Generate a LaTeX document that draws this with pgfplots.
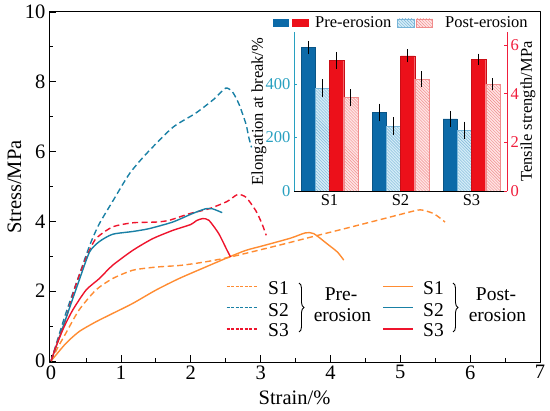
\documentclass[border=0pt]{standalone}
\usepackage{fontspec}
\setmainfont{Liberation Serif}
\usepackage{pgfplots}
\pgfplotsset{compat=1.18}
\usetikzlibrary{patterns,decorations.pathreplacing}
\definecolor{corange}{RGB}{255,140,50}
\definecolor{cteal}{RGB}{25,128,165}
\definecolor{cred}{RGB}{238,20,45}
\definecolor{barblue}{RGB}{12,106,168}
\definecolor{barred}{RGB}{236,16,26}
\definecolor{lblue}{RGB}{212,236,247}
\definecolor{hblue}{RGB}{120,180,215}
\definecolor{lpink}{RGB}{255,228,228}
\definecolor{hpink}{RGB}{240,140,140}
\definecolor{tealax}{RGB}{40,160,192}
\definecolor{redax}{RGB}{240,30,60}
\begin{document}
\begin{tikzpicture}
\useasboundingbox (0,0) rectangle (550bp,411bp);
% ---------------- main axis ----------------
\begin{axis}[
  at={(49bp,49bp)}, anchor=south west, scale only axis,
  width=491bp, height=350bp,
  xmin=-0.03, xmax=7, ymin=-0.03, ymax=10,
  xtick={0,...,7}, ytick={0,2,...,10},
  minor x tick num=1, minor y tick num=1,
  tick align=inside, tick pos=left,
  major tick length=7bp, minor tick length=4bp,
  axis line style={line width=1pt},
  every tick/.style={black, line width=0.8pt},
  tick label style={font=\fontsize{20.5bp}{24bp}\selectfont},
  /pgf/number format/assume math mode=true,
  xlabel={Strain/\%}, ylabel={Stress/MPa},
  label style={font=\fontsize{20.5bp}{24bp}\selectfont},
  xlabel style={at={(axis description cs:0.5,-0.1029)}, anchor=center},
  ylabel style={at={(axis description cs:-0.0703,0.5)}, anchor=center},
  line join=round,
]
% Pre-erosion S1 (dashed orange)
\addplot[corange, line width=1.4bp, dash pattern=on 6bp off 3.5bp, smooth, tension=0.4] coordinates {
(0,0) (0.1,0.4) (0.21,0.79) (0.40,1.46) (0.64,2.03) (0.88,2.36) (1.17,2.6) (1.5,2.69) (1.86,2.74) (2.21,2.84) (2.57,2.98) (3.29,3.33) (3.76,3.57) (4.24,3.81) (4.71,4.05) (5.1,4.25) (5.29,4.33) (5.48,4.22) (5.64,3.98)};
% Pre-erosion S2 (dashed teal)
\addplot[cteal, line width=1.4bp, dash pattern=on 6bp off 3.5bp, smooth, tension=0.4] coordinates {
(0,0) (0.2,1.3) (0.4,2.45) (0.56,3.35) (0.69,3.93) (0.88,4.57) (1.12,5.36) (1.36,5.93) (1.74,6.69) (2.07,7.1) (2.33,7.5) (2.5,7.82) (2.6,7.7) (2.69,7.36) (2.79,6.79) (2.83,6.41) (2.87,6.12)};
% Pre-erosion S3 (dashed red)
\addplot[cred, line width=1.4bp, dash pattern=on 6bp off 3.5bp, smooth, tension=0.4] coordinates {
(0,0) (0.1,0.6) (0.21,1.2) (0.35,2.15) (0.5,2.95) (0.64,3.5) (0.88,3.84) (1.17,3.96) (1.5,3.98) (1.69,4.03) (1.98,4.22) (2.26,4.36) (2.52,4.57) (2.67,4.77) (2.79,4.69) (2.93,4.31) (3.02,3.93) (3.08,3.6)};
% Post-erosion S1 (solid orange)
\addplot[corange, line width=1.4bp, smooth, tension=0.4] coordinates {
(0,0) (0.21,0.5) (0.40,0.84) (0.64,1.12) (0.88,1.36) (1.17,1.65) (1.5,2.03) (1.83,2.36) (2.21,2.69) (2.55,2.98) (2.79,3.17) (3.05,3.31) (3.43,3.52) (3.64,3.67) (3.76,3.65) (3.95,3.36) (4.10,3.12) (4.19,2.89)};
% Post-erosion S2 (solid teal)
\addplot[cteal, line width=1.4bp, smooth, tension=0.4] coordinates {
(0,0) (0.2,1.15) (0.4,2.3) (0.55,3.12) (0.69,3.42) (0.88,3.63) (1.17,3.71) (1.40,3.79) (1.74,3.98) (2.02,4.22) (2.21,4.36) (2.31,4.36) (2.45,4.25)};
% Post-erosion S3 (solid red)
\addplot[cred, line width=1.4bp, smooth, tension=0.4] coordinates {
(0,0) (0.07,0.41) (0.18,0.95) (0.31,1.46) (0.5,2.03) (0.69,2.36) (0.88,2.74) (1.17,3.17) (1.45,3.5) (1.74,3.74) (2.0,3.91) (2.08,4.02) (2.17,4.08) (2.26,4.03) (2.40,3.65) (2.52,3.17) (2.57,2.98)};
\end{axis}
% ---------------- main legend ----------------
\begin{scope}[font=\fontsize{19.5bp}{23bp}\selectfont]
\draw[corange, line width=1.1bp, dash pattern=on 3bp off 1.5bp] (226.7bp,124.3bp) -- (256.7bp,124.3bp);
\draw[cteal,   line width=1.1bp, dash pattern=on 3bp off 1.5bp] (226.7bp,103.3bp) -- (256.7bp,103.3bp);
\draw[cred,    line width=1.1bp, dash pattern=on 3bp off 1.5bp] (226.7bp,82bp) -- (256.7bp,82bp);
\node[anchor=base west, inner sep=0] at (268bp,116bp) {S1};
\node[anchor=base west, inner sep=0] at (268bp,94.3bp) {S2};
\node[anchor=base west, inner sep=0] at (268bp,74.3bp) {S3};
\draw[line width=0.9bp, decorate, decoration={brace, amplitude=5bp}] (299bp,128bp) -- (299bp,79bp);
\node[anchor=base, inner sep=0] at (341bp,110.3bp) {Pre-};
\node[anchor=base, inner sep=0] at (342.5bp,89.3bp) {erosion};
\draw[corange, line width=1.3bp] (383bp,124.3bp) -- (413bp,124.3bp);
\draw[cteal,   line width=1.3bp] (383bp,103.3bp) -- (413bp,103.3bp);
\draw[cred,    line width=1.3bp] (383bp,82bp) -- (413bp,82bp);
\node[anchor=base west, inner sep=0] at (423bp,116bp) {S1};
\node[anchor=base west, inner sep=0] at (423bp,94.3bp) {S2};
\node[anchor=base west, inner sep=0] at (423bp,74.3bp) {S3};
\draw[line width=0.9bp, decorate, decoration={brace, amplitude=5bp}] (453bp,128bp) -- (453bp,79bp);
\node[anchor=base, inner sep=0] at (496bp,110.3bp) {Post-};
\node[anchor=base, inner sep=0] at (497.5bp,89.3bp) {erosion};
\end{scope}
% ---------------- inset: elongation ----------------
\begin{axis}[
  at={(294bp,220bp)}, anchor=south west, scale only axis,
  width=213bp, height=159bp,
  xmin=0.5, xmax=3.5, ymin=0, ymax=595,
  axis x line*=bottom, axis y line*=left,
  xtick={1,2,3}, xticklabels={S1,S2,S3}, ytick={0,200,400},
  x axis line style={-, black, line width=0.8pt},
  y axis line style={-, tealax, line width=0.8pt},
  tick align=inside, major tick length=3bp,
  xtick style={draw=none},
  ytick style={tealax, line width=0.6pt},
  yticklabel style={text=tealax},
  tick label style={font=\fontsize{16.5bp}{19bp}\selectfont},
  /pgf/number format/assume math mode=true,
  ylabel={Elongation at break/\%},
  ylabel style={font=\fontsize{16.5bp}{19bp}\selectfont, at={(axis description cs:-0.1643,0.5)}, anchor=center},
]
\addplot[ybar, bar width=0.2, bar shift=0pt, fill=barblue, draw=barblue!80!black, line width=0.3pt,
  error bars/.cd, y dir=both, y explicit,
  error bar style={black, line width=0.7pt}, error mark options={black, mark size=2.5bp, line width=0.7pt}]
  coordinates {(0.7,537) +- (0,15) (1.7,294) +- (0,24) (2.7,270) +- (0,20)};
\addplot[ybar, bar width=0.2, bar shift=0pt, fill=lblue, draw=hblue, line width=0.3pt,
  postaction={pattern=north west lines, pattern color=hblue},
  error bars/.cd, y dir=both, y explicit,
  error bar style={black, line width=0.7pt}, error mark options={black, mark size=2.5bp, line width=0.7pt}]
  coordinates {(0.9,384) +- (0,24) (1.9,243) +- (0,23) (2.9,227) +- (0,23)};
\end{axis}
% ---------------- inset: tensile strength ----------------
\begin{axis}[
  at={(294bp,220bp)}, anchor=south west, scale only axis,
  width=213bp, height=159bp,
  xmin=0.5, xmax=3.5, ymin=0, ymax=6.53,
  axis x line=none, axis y line*=right,
  ytick={0,2,4,6},
  y axis line style={-, redax, line width=0.8pt},
  tick align=inside, major tick length=3bp,
  ytick style={redax, line width=0.6pt},
  yticklabel style={text=redax},
  tick label style={font=\fontsize{16.5bp}{19bp}\selectfont},
  /pgf/number format/assume math mode=true,
  ylabel={Tensile strength/MPa},
  ylabel style={font=\fontsize{16.5bp}{19bp}\selectfont, at={(axis description cs:1.0986,0.5)}, anchor=center},
]
\addplot[ybar, bar width=0.2, bar shift=0pt, fill=barred, draw=barred!85!black, line width=0.3pt,
  error bars/.cd, y dir=both, y explicit,
  error bar style={black, line width=0.7pt}, error mark options={black, mark size=2.5bp, line width=0.7pt}]
  coordinates {(1.1,5.36) +- (0,0.25) (2.1,5.55) +- (0,0.16) (3.1,5.41) +- (0,0.13)};
\addplot[ybar, bar width=0.2, bar shift=0pt, fill=lpink, draw=hpink, line width=0.3pt,
  postaction={pattern=north west lines, pattern color=hpink},
  error bars/.cd, y dir=both, y explicit,
  error bar style={black, line width=0.7pt}, error mark options={black, mark size=2.5bp, line width=0.7pt}]
  coordinates {(1.3,3.84) +- (0,0.23) (2.3,4.59) +- (0,0.22) (3.3,4.38) +- (0,0.14)};
\end{axis}
% ---------------- inset legend ----------------
\fill[barblue] (273bp,384bp) rectangle (289bp,392bp);
\fill[barred] (292bp,384bp) rectangle (309bp,392bp);
\node[anchor=base west, inner sep=0, font=\fontsize{16.5bp}{19bp}\selectfont] at (315bp,383bp) {Pre-erosion};
\filldraw[fill=lblue, draw=hblue, line width=0.3pt] (397bp,384bp) rectangle (414bp,392bp);
\fill[pattern=north west lines, pattern color=hblue] (397bp,384bp) rectangle (414bp,392bp);
\filldraw[fill=lpink, draw=hpink, line width=0.3pt] (416bp,384bp) rectangle (432bp,392bp);
\fill[pattern=north west lines, pattern color=hpink] (416bp,384bp) rectangle (432bp,392bp);
\node[anchor=base west, inner sep=0, font=\fontsize{16.5bp}{19bp}\selectfont] at (445bp,383bp) {Post-erosion};
\end{tikzpicture}
\end{document}
